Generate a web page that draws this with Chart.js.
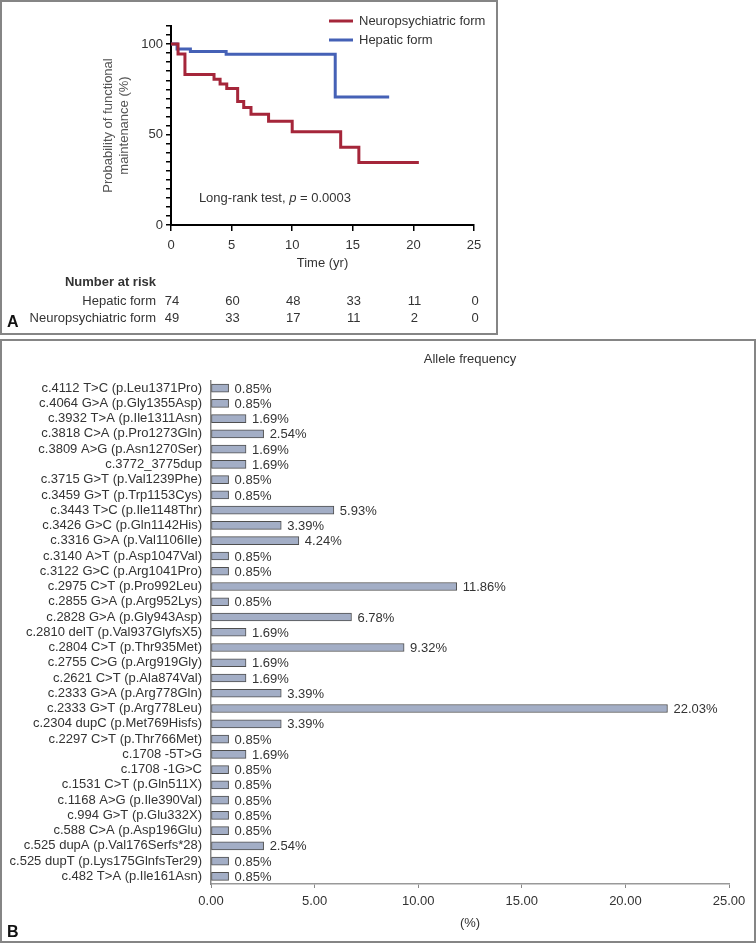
<!DOCTYPE html>
<html>
<head>
<meta charset="utf-8">
<title>Functional maintenance and allele frequency</title>
<script src="https://cdn.jsdelivr.net/npm/chart.js@4.4.1/dist/chart.umd.min.js"></script>
<style>
    body { margin: 0; background: #fff; width: 756px; height: 944px; position: relative; overflow: hidden; }
    canvas { position: absolute; left: 0; }
    .frame { position: absolute; border: 2px solid #858585; box-sizing: border-box; pointer-events: none; }
    .panel-tag { position: absolute; font: bold 16px Arial, "Liberation Sans", sans-serif; line-height: 1; color: #111; }
</style>
</head>
<body>
<canvas id="kmChart" width="498" height="336" style="top:0"></canvas>
<canvas id="alleleChart" width="756" height="604" style="top:340px"></canvas>
<div class="frame" style="left:0;top:0;width:498px;height:335px"></div>
<div class="frame" style="left:0;top:339px;width:756px;height:604px"></div>
<div class="panel-tag" style="left:7px;top:314px">A</div>
<div class="panel-tag" style="left:7px;top:924px">B</div>

<script>
// Panel A: Kaplan-Meier curves (time in years, probability in %)
const neuroTimes = [0, 0.58, 1.15, 3.55, 4.05, 4.6, 5.5, 6.0, 6.6, 8.05, 10.0, 14.0, 15.5, 20.45];
const neuroSurv = [100, 94.5, 83.2, 80.6, 78.0, 75.4, 68.2, 65.0, 61.2, 57.4, 51.5, 43.0, 34.5, 34.5];
const hepaticTimes = [0, 0.5, 1.6, 4.55, 13.55, 18.0];
const hepaticSurv = [100, 97.3, 95.9, 94.4, 70.8, 70.8];

// number at risk
const riskTimes = [0, 5, 10, 15, 20, 25];
const hepaticRisk = [74, 60, 48, 33, 11, 0];
const neuroRisk = [49, 33, 17, 11, 2, 0];

// Panel B: allele frequency (%)
const variants = [
    'c.4112 T>C (p.Leu1371Pro)', 'c.4064 G>A (p.Gly1355Asp)', 'c.3932 T>A (p.Ile1311Asn)',
    'c.3818 C>A (p.Pro1273Gln)', 'c.3809 A>G (p.Asn1270Ser)', 'c.3772_3775dup',
    'c.3715 G>T (p.Val1239Phe)', 'c.3459 G>T (p.Trp1153Cys)', 'c.3443 T>C (p.Ile1148Thr)',
    'c.3426 G>C (p.Gln1142His)', 'c.3316 G>A (p.Val1106Ile)', 'c.3140 A>T (p.Asp1047Val)',
    'c.3122 G>C (p.Arg1041Pro)', 'c.2975 C>T (p.Pro992Leu)', 'c.2855 G>A (p.Arg952Lys)',
    'c.2828 G>A (p.Gly943Asp)', 'c.2810 delT (p.Val937GlyfsX5)', 'c.2804 C>T (p.Thr935Met)',
    'c.2755 C>G (p.Arg919Gly)', 'c.2621 C>T (p.Ala874Val)', 'c.2333 G>A (p.Arg778Gln)',
    'c.2333 G>T (p.Arg778Leu)', 'c.2304 dupC (p.Met769Hisfs)', 'c.2297 C>T (p.Thr766Met)',
    'c.1708 -5T>G', 'c.1708 -1G>C', 'c.1531 C>T (p.Gln511X)',
    'c.1168 A>G (p.Ile390Val)', 'c.994 G>T (p.Glu332X)', 'c.588 C>A (p.Asp196Glu)',
    'c.525 dupA (p.Val176Serfs*28)', 'c.525 dupT (p.Lys175GlnfsTer29)', 'c.482 T>A (p.Ile161Asn)'
];
const frequencies = [
    0.85, 0.85, 1.69, 2.54, 1.69, 1.69, 0.85, 0.85, 5.93, 3.39, 4.24, 0.85, 0.85, 11.86, 0.85,
    6.78, 1.69, 9.32, 1.69, 1.69, 3.39, 22.03, 3.39, 0.85, 1.69, 0.85, 0.85, 0.85, 0.85, 0.85,
    2.54, 0.85, 0.85
];

const FONT = 'Arial, "Liberation Sans", sans-serif';
Chart.defaults.font.family = FONT;
Chart.defaults.font.size = 13;
Chart.defaults.color = '#333';

function toPoints(times, values) {
    return times.map((t, i) => ({ x: t, y: values[i] }));
}

// legend, log-rank note and risk table for panel A
const kmExtras = {
    id: 'kmExtras',
    afterDraw(chart) {
        const ctx = chart.ctx;
        const xs = chart.scales.x;
        const ys = chart.scales.y;
        ctx.save();
        ctx.textBaseline = 'middle';

        chart.data.datasets.forEach((ds, i) => {
            const ly = 21 + i * 19;
            ctx.strokeStyle = ds.borderColor;
            ctx.lineWidth = 3;
            ctx.beginPath();
            ctx.moveTo(329, ly);
            ctx.lineTo(353, ly);
            ctx.stroke();
            ctx.fillStyle = '#333';
            ctx.font = '13px ' + FONT;
            ctx.textAlign = 'left';
            ctx.fillText(ds.label, 359, ly);
        });

        // log-rank test note
        let tx = xs.getPixelForValue(2.3);
        const ty = ys.getPixelForValue(14.5);
        ctx.font = '13px ' + FONT;
        ctx.fillText('Long-rank test, ', tx, ty);
        tx += ctx.measureText('Long-rank test, ').width;
        ctx.font = 'italic 13px ' + FONT;
        ctx.fillText('p', tx, ty);
        tx += ctx.measureText('p').width;
        ctx.font = '13px ' + FONT;
        ctx.fillText(' = 0.0003', tx, ty);

        // number at risk
        ctx.textAlign = 'right';
        ctx.font = 'bold 13px ' + FONT;
        ctx.fillText('Number at risk', 156, 282);
        ctx.font = '13px ' + FONT;
        ctx.fillText('Hepatic form', 156, 301);
        ctx.fillText('Neuropsychiatric form', 156, 318);
        ctx.textAlign = 'center';
        riskTimes.forEach((t, i) => {
            const px = xs.getPixelForValue(t);
            ctx.fillText(String(hepaticRisk[i]), px + 1, 301);
            ctx.fillText(String(neuroRisk[i]), px + 1, 318);
        });
        ctx.restore();
    }
};

new Chart(document.getElementById('kmChart'), {
    type: 'line',
    data: {
        datasets: [
            {
                label: 'Neuropsychiatric form',
                data: toPoints(neuroTimes, neuroSurv),
                borderColor: '#a5263a',
                borderWidth: 3,
                stepped: true,
                pointRadius: 0,
                fill: false
            },
            {
                label: 'Hepatic form',
                data: toPoints(hepaticTimes, hepaticSurv),
                borderColor: '#4561b6',
                borderWidth: 3,
                stepped: true,
                pointRadius: 0,
                fill: false
            }
        ]
    },
    options: {
        responsive: false,
        animation: false,
        layout: { padding: { left: 95, right: 24, top: 26, bottom: 63 } },
        plugins: { legend: { display: false }, tooltip: { enabled: false } },
        scales: {
            x: {
                type: 'linear',
                min: 0,
                max: 25,
                afterFit(scale) { scale.height = 48; },
                ticks: { stepSize: 5, padding: 7, color: '#333', maxRotation: 0 },
                grid: { drawOnChartArea: false, tickLength: 6, color: '#000', lineWidth: 1.5 },
                border: { color: '#000', width: 2 },
                title: { display: true, text: 'Time (yr)', color: '#333', padding: { top: 0, bottom: 2 } }
            },
            y: {
                min: 0,
                max: 110,
                afterFit(scale) { scale.width = 76; },
                ticks: {
                    stepSize: 5,
                    autoSkip: false,
                    padding: 3,
                    color: '#333',
                    callback: (v) => (v % 50 === 0 ? v : '')
                },
                grid: { drawOnChartArea: false, tickLength: 5, color: '#000', lineWidth: 1.5 },
                border: { color: '#000', width: 2 },
                title: {
                    display: true,
                    text: ['Probability of functional', 'maintenance (%)'],
                    color: '#555',
                    font: { size: 13, lineHeight: 1.3 },
                    padding: { top: 4.5, bottom: 0 }
                }
            }
        }
    },
    plugins: [kmExtras]
});

// title and value labels for panel B
const alleleExtras = {
    id: 'alleleExtras',
    afterDatasetsDraw(chart) {
        const ctx = chart.ctx;
        const area = chart.chartArea;
        ctx.save();
        ctx.fillStyle = '#333';
        ctx.font = '13px ' + FONT;
        ctx.textBaseline = 'middle';
        ctx.textAlign = 'center';
        ctx.fillText('Allele frequency', (area.left + area.right) / 2, 19);

        ctx.textAlign = 'left';
        const meta = chart.getDatasetMeta(0);
        meta.data.forEach((bar, i) => {
            const v = chart.data.datasets[0].data[i];
            ctx.fillText(v.toFixed(2) + '%', bar.x + 6, bar.y + 1);
        });
        ctx.restore();
    }
};

new Chart(document.getElementById('alleleChart'), {
    type: 'bar',
    data: {
        labels: variants,
        datasets: [{
            label: 'Allele frequency',
            data: frequencies,
            backgroundColor: '#a3aec6',
            borderColor: '#4f4f4f',
            borderWidth: 1,
            borderSkipped: false,
            barThickness: 8
        }]
    },
    options: {
        indexAxis: 'y',
        responsive: false,
        animation: false,
        layout: { padding: { left: 0, right: 27, top: 40.5, bottom: 10 } },
        plugins: { legend: { display: false }, tooltip: { enabled: false } },
        scales: {
            x: {
                min: 0,
                max: 25,
                afterFit(scale) { scale.height = 50; },
                ticks: { stepSize: 5, padding: 6, color: '#333', callback: (v) => v.toFixed(2) },
                grid: { drawOnChartArea: false, tickLength: 4, color: '#888', lineWidth: 1 },
                border: { color: '#999', width: 1.5 },
                title: { display: true, text: '(%)', color: '#333', padding: { top: 0, bottom: 3 } }
            },
            y: {
                afterFit(scale) { scale.width = 211; },
                ticks: { autoSkip: false, padding: 9, color: '#333' },
                grid: { drawOnChartArea: false, drawTicks: false },
                border: { color: '#888', width: 1.5 }
            }
        }
    },
    plugins: [alleleExtras]
});
</script>
</body>
</html>
